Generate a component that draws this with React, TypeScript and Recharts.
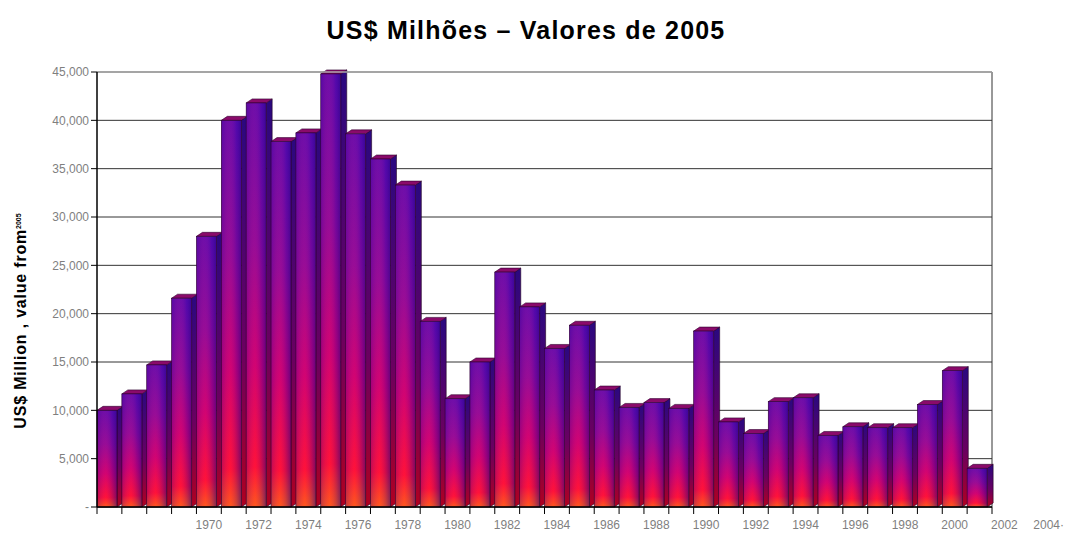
import React from 'react';
import { BarChart, Bar, XAxis, YAxis, CartesianGrid, ReferenceLine } from 'recharts';

const years: number[] = [
  1966, 1967, 1968, 1969, 1970, 1971, 1972, 1973, 1974, 1975, 1976, 1977,
  1978, 1979, 1980, 1981, 1982, 1983, 1984, 1985, 1986, 1987, 1988, 1989,
  1990, 1991, 1992, 1993, 1994, 1995, 1996, 1997, 1998, 1999, 2000, 2001,
];
const values: number[] = [
  10000, 11700, 14700, 21600, 28000, 40000, 41800, 37800, 38700, 44800, 38600, 36000,
  33300, 19200, 11200, 15000, 24300, 20700, 16400, 18800, 12100, 10300, 10800, 10200,
  18200, 8800, 7600, 10900, 11300, 7400, 8300, 8200, 8200, 10600, 14100, 4000,
];
const yTicks: number[] = [0, 5000, 10000, 15000, 20000, 25000, 30000, 35000, 40000, 45000];
const extraLabels: string[] = ['2002', '2004\u00b7'];

const data = years.map((y, i) => ({ year: y, value: values[i] }));

const FONT = '"Liberation Sans", Arial, sans-serif';

const Bar3D = (props: any) => {
  const { y, width, height } = props;
  const x = props.x - 2;
  if (height <= 0) return null;
  const d = 6;
  const dy = 4;
  return (
    <g>
      <polygon
        points={`${x + width},${y} ${x + width + d},${y - dy} ${x + width + d},${y + height - dy} ${x + width},${y + height}`}
        fill="url(#sideGrad)"
        stroke="#200020"
        strokeWidth={0.6}
      />
      <polygon
        points={`${x},${y} ${x + d},${y - dy} ${x + width + d},${y - dy} ${x + width},${y}`}
        fill="#8a0a6a"
        stroke="#300030"
        strokeWidth={0.6}
      />
      <rect x={x} y={y} width={width} height={height} fill="url(#frontGrad)" />
      <rect x={x} y={y} width={width} height={height} fill="url(#sheenGrad)" stroke="#300030" strokeWidth={0.6} />
    </g>
  );
};

const XTick = (props: any) => {
  const { x, y, payload, index } = props;
  const band = 895 / years.length;
  const yr = years[index];
  const items: React.ReactNode[] = [];
  items.push(<line key="t" x1={x - band / 2} x2={x - band / 2} y1={y - 8} y2={y - 1} stroke="#000" strokeWidth={1} />);
  if (index === years.length - 1) {
    items.push(<line key="t2" x1={x + band / 2} x2={x + band / 2} y1={y - 8} y2={y - 1} stroke="#000" strokeWidth={1} />);
    items.push(
      <text key="e0" x={x + band} y={y + 14} textAnchor="middle" fontSize={12} fill="#7f7f7f" fontFamily={FONT}>
        {extraLabels[0]}
      </text>
    );
    items.push(
      <text key="e1" x={1064} y={y + 14} textAnchor="end" fontSize={12} fill="#7f7f7f" fontFamily={FONT}>
        {extraLabels[1]}
      </text>
    );
  }
  if (yr >= 1970 && yr % 2 === 0) {
    items.push(
      <text key="l" x={x} y={y + 14} textAnchor="middle" fontSize={12} fill="#7f7f7f" fontFamily={FONT}>
        {payload.value}
      </text>
    );
  }
  return <g>{items}</g>;
};

export default function App() {
  return (
    <div style={{ position: 'absolute', left: 0, top: 0, width: 1065, height: 534, background: '#fff' }}>
      <div
        style={{
          position: 'absolute',
          left: 0,
          width: 1052,
          top: 15,
          textAlign: 'center',
          fontFamily: FONT,
          fontWeight: 'bold',
          fontSize: 25,
          letterSpacing: 1.2,
          color: '#000',
          lineHeight: '30px',
        }}
      >
        US$ Milhões – Valores de 2005
      </div>
      <BarChart
        width={1065}
        height={534}
        data={data}
        margin={{ top: 72, right: 73, bottom: 0, left: 0 }}
        barSize={20}
      >
        <defs>
          <linearGradient id="frontGrad" x1="0" y1="0" x2="0" y2="1">
            <stop offset="0%" stopColor="#5a0cb0" />
            <stop offset="35%" stopColor="#8a0a9a" />
            <stop offset="65%" stopColor="#cc0070" />
            <stop offset="90%" stopColor="#ff1030" />
            <stop offset="100%" stopColor="#ff6010" />
          </linearGradient>
          <linearGradient id="sheenGrad" x1="0" y1="0" x2="1" y2="0">
            <stop offset="0%" stopColor="#4a0090" stopOpacity={0.35} />
            <stop offset="45%" stopColor="#ff2080" stopOpacity={0.12} />
            <stop offset="75%" stopColor="#3a00a0" stopOpacity={0.25} />
            <stop offset="100%" stopColor="#1a0080" stopOpacity={0.55} />
          </linearGradient>
          <linearGradient id="sideGrad" x1="0" y1="0" x2="0" y2="1">
            <stop offset="0%" stopColor="#2a0880" />
            <stop offset="60%" stopColor="#6a0060" />
            <stop offset="100%" stopColor="#b00020" />
          </linearGradient>
        </defs>
        <CartesianGrid
          vertical={true}
          stroke="#333"
          strokeWidth={1}
          verticalCoordinatesGenerator={(p: any) => [p.offset.left + p.offset.width]}
        />
        <ReferenceLine y={45000} stroke="#aaa" strokeWidth={1.5} />
        <XAxis
          dataKey="year"
          interval={0}
          height={27}
          tickLine={false}
          axisLine={{ stroke: '#000', strokeWidth: 1.5 }}
          tick={<XTick />}
        />
        <YAxis
          width={97}
          domain={[0, 45000]}
          ticks={yTicks}
          interval={0}
          axisLine={{ stroke: '#000', strokeWidth: 1.5 }}
          tickLine={{ stroke: '#000' }}
          tickSize={6}
          tick={{ fontSize: 12, fill: '#7f7f7f', fontFamily: FONT }}
          tickFormatter={(v: number) => (v === 0 ? '-' : v.toLocaleString('en-US'))}
        />
        <Bar dataKey="value" isAnimationActive={false} shape={<Bar3D />} />
        <text
          x={26}
          y={321}
          transform="rotate(-90 26 321)"
          textAnchor="middle"
          fontSize={16}
          letterSpacing={0.8}
          fontWeight="bold"
          fontFamily={FONT}
          fill="#000"
        >
          US$ Million , value from<tspan fontSize={7} dy={-5} letterSpacing={0}>2005</tspan>
        </text>
      </BarChart>
    </div>
  );
}
